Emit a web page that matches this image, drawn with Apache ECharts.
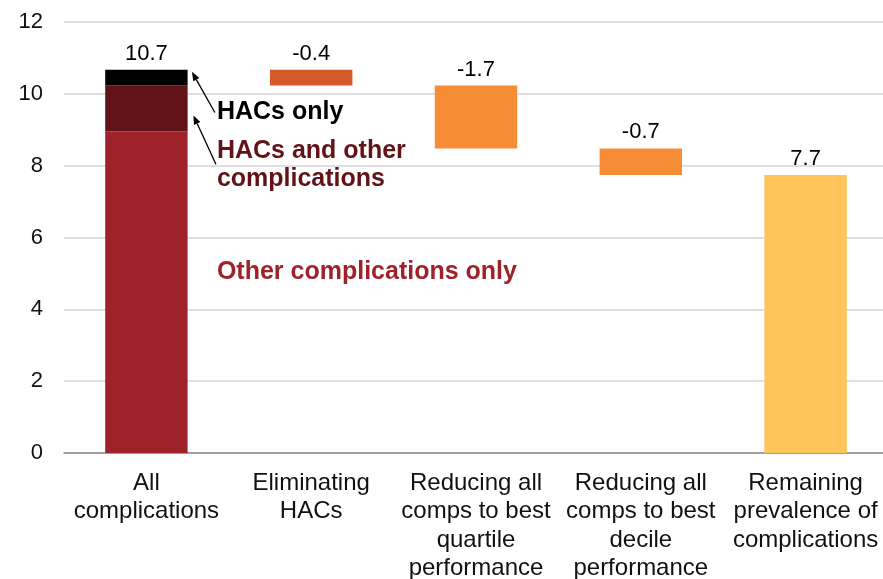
<!DOCTYPE html>
<html>
<head>
<meta charset="utf-8">
<script src="https://cdn.jsdelivr.net/npm/echarts@6/dist/echarts.min.js"></script>
<style>
  html, body { margin: 0; padding: 0; background: #ffffff; }
  #chart { width: 883px; height: 579px; }
</style>
</head>
<body>
<div id="chart"></div>
<script>
// categories (x axis, line breaks as in the picture)
const categories = [
  "All\ncomplications",
  "Eliminating\nHACs",
  "Reducing all\ncomps to best\nquartile\nperformance",
  "Reducing all\ncomps to best\ndecile\nperformance",
  "Remaining\nprevalence of\ncomplications"
];
// first bar, stacked parts
const otherOnly = 8.95;
const hacsAndOther = 1.28;
const hacsOnly = 0.44;
// reductions (categories 1..3)
const reductions = [0.44, 1.75, 0.74];
const remaining = 7.74;
// labels printed above the bars
const valueLabels = ["10.7", "-0.4", "-1.7", "-0.7", "7.7"];
const yTicks = [0, 2, 4, 6, 8, 10, 12];

const FONT = "'Liberation Sans', Arial, Helvetica, sans-serif";
const reductionColors = ["#D45A2B", "#F68D36", "#F68D36"];

// invisible base for the floating bars
const total = otherOnly + hacsAndOther + hacsOnly;
let level = total;
const base = [0];
const reductionData = ["-"];
reductions.forEach((r, i) => {
  level -= r;
  base.push(level);
  reductionData.push({ value: r, itemStyle: { color: reductionColors[i] } });
});
base.push(0);
reductionData.push("-");

const first = v => [v, "-", "-", "-", "-"];
const last = v => ["-", "-", "-", "-", v];

const topLabel = {
  show: true,
  position: "top",
  distance: 5,
  color: "#000",
  fontFamily: FONT,
  fontSize: 22,
  formatter: p => valueLabels[p.dataIndex]
};

let option = {
  animation: false,
  grid: { left: 64, right: -5, top: 22, bottom: 126, containLabel: false, outerBoundsMode: "none" },
  xAxis: {
    type: "category",
    data: categories,
    axisTick: { show: false },
    axisLine: { lineStyle: { color: "#8a8a8a", width: 1.5 } },
    axisLabel: {
      interval: 0,
      color: "#111",
      fontFamily: FONT,
      fontSize: 24,
      lineHeight: 28.5,
      margin: 16
    }
  },
  yAxis: {
    type: "value",
    min: yTicks[0],
    max: yTicks[yTicks.length - 1],
    interval: 2,
    axisLine: { show: false },
    axisTick: { show: false },
    splitLine: { lineStyle: { color: "#d3d3da", width: 1.5 } },
    axisLabel: {
      color: "#111",
      fontFamily: FONT,
      fontSize: 22,
      margin: 21
    }
  },
  series: [
    {
      name: "base",
      type: "bar",
      stack: "w",
      barWidth: "50%",
      itemStyle: { color: "transparent" },
      data: base
    },
    {
      name: "Other complications only",
      type: "bar",
      stack: "w",
      itemStyle: { color: "#9E2229" },
      data: first(otherOnly)
    },
    {
      name: "HACs and other complications",
      type: "bar",
      stack: "w",
      itemStyle: { color: "#611318" },
      data: first(hacsAndOther)
    },
    {
      name: "HACs only",
      type: "bar",
      stack: "w",
      itemStyle: { color: "#000000" },
      label: topLabel,
      data: first(hacsOnly)
    },
    {
      name: "reduction",
      type: "bar",
      stack: "w",
      label: topLabel,
      data: reductionData
    },
    {
      name: "remaining",
      type: "bar",
      stack: "w",
      itemStyle: { color: "#FFC45A" },
      label: topLabel,
      data: last(remaining)
    }
  ]
};

const myChart = echarts.init(document.getElementById("chart"));
myChart.setOption(option);

// annotations next to the first bar
const px = (x, y) => myChart.convertToPixel({ gridIndex: 0 }, [x, y]);
const barHalf = 41.5;
const c0 = px(0, 0)[0];
const edge = c0 + barHalf;
const textX = edge + 29;

function arrow(from, to) {
  const dx = to[0] - from[0], dy = to[1] - from[1];
  const len = Math.sqrt(dx * dx + dy * dy);
  const ux = dx / len, uy = dy / len;
  const h = 9, w = 3.5;
  const bx = to[0] - ux * h, by = to[1] - uy * h;
  return [
    { type: "line", shape: { x1: from[0], y1: from[1], x2: bx, y2: by },
      style: { stroke: "#000", lineWidth: 1.3 } },
    { type: "polygon",
      shape: { points: [to, [bx - uy * w, by + ux * w], [bx + uy * w, by - ux * w]] },
      style: { fill: "#000" } }
  ];
}

const yTop = px(0, total)[1];
const graphics = []
  .concat(arrow([textX - 2, px(0, 9.48)[1]], [edge + 4, yTop + 2]))
  .concat(arrow([textX - 1, px(0, 8.04)[1]], [edge + 5.5, px(0, 9.4)[1]]));

const bold = "bold 25px " + FONT;
graphics.push(
  { type: "text", x: textX, y: px(0, 9.5)[1], style: { text: "HACs only", fill: "#000",
    font: bold, verticalAlign: "middle" } },
  { type: "text", x: textX, y: px(0, 8.02)[1], style: { text: "HACs and other\ncomplications",
    fill: "#611318", font: bold, lineHeight: 28, verticalAlign: "middle" } },
  { type: "text", x: textX, y: px(0, 5.05)[1], style: { text: "Other complications only",
    fill: "#9E2229", font: bold, verticalAlign: "middle" } }
);
myChart.setOption({ graphic: graphics });
</script>
</body>
</html>
